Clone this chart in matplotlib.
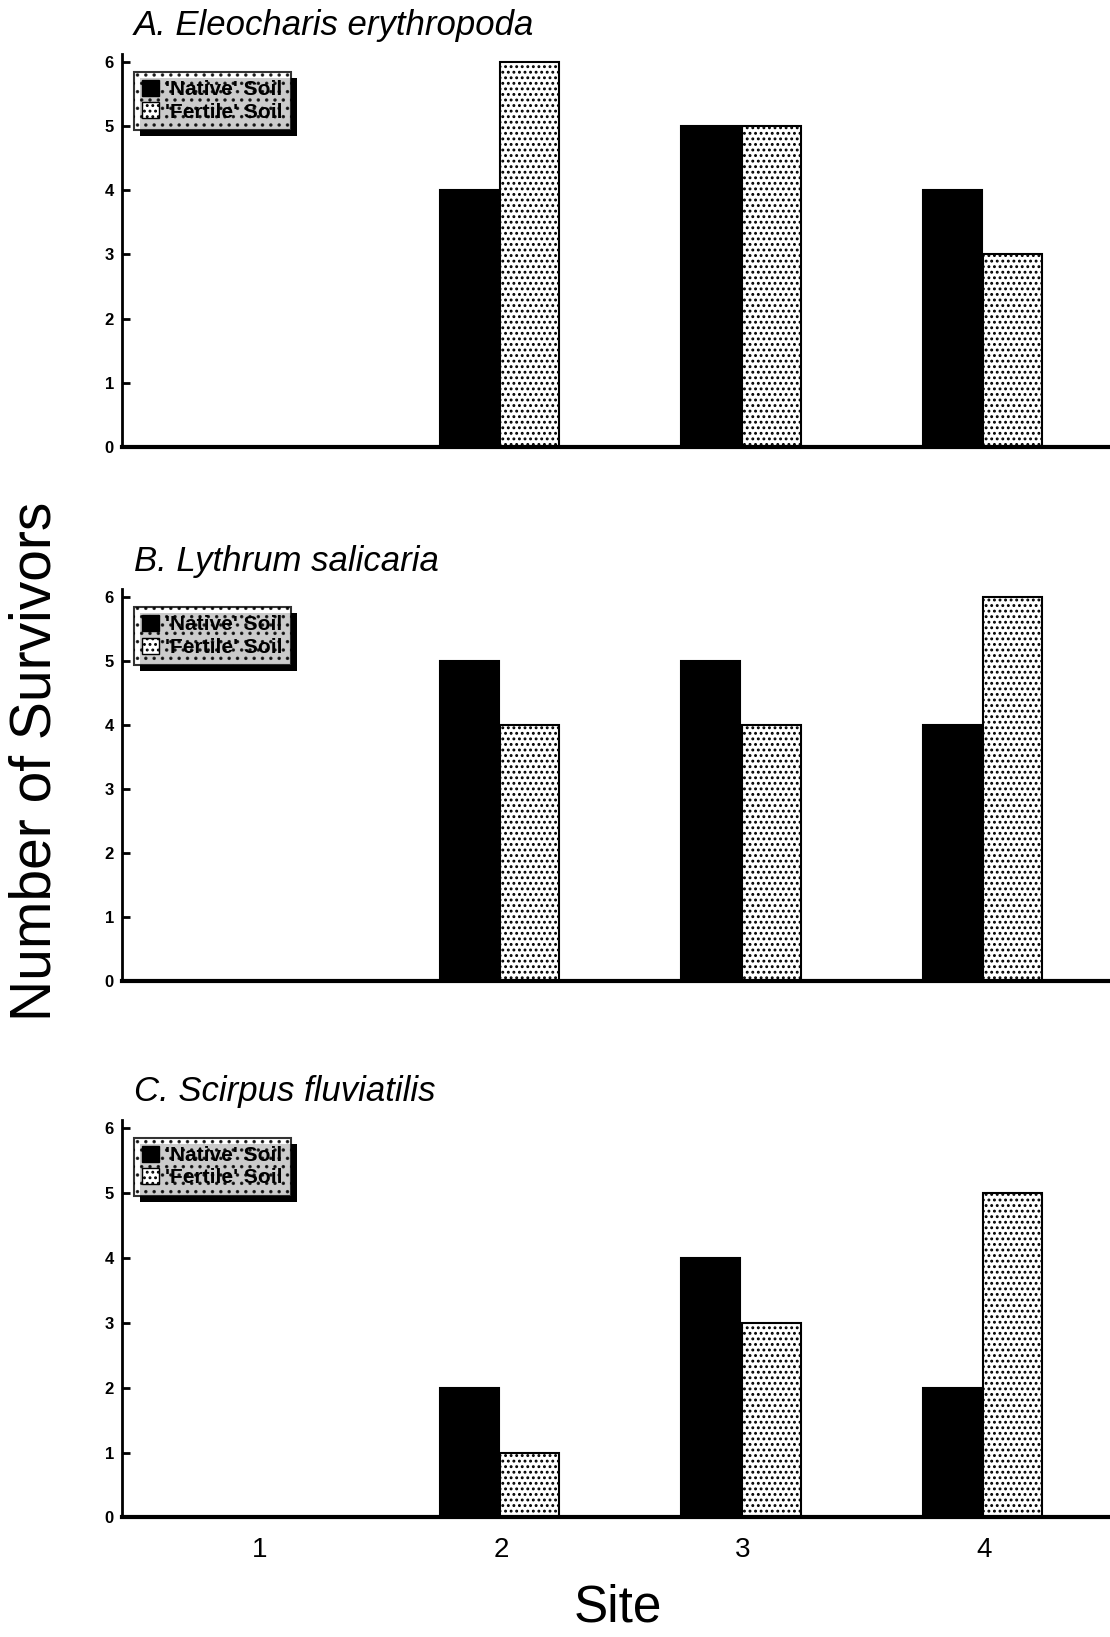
import numpy as np
import matplotlib
matplotlib.use("Agg")
import matplotlib.pyplot as plt
from matplotlib.patches import Patch, Rectangle

plt.rcParams['font.family'] = ['Liberation Sans', 'DejaVu Sans']
plt.rcParams['hatch.linewidth'] = 1.3

sites = [1, 2, 3, 4]
titles = ["A. Eleocharis erythropoda", "B. Lythrum salicaria", "C. Scirpus fluviatilis"]
native = [
    [0, 4, 5, 4],
    [0, 5, 5, 4],
    [0, 2, 4, 2],
]
fertile = [
    [0, 6, 5, 3],
    [0, 4, 4, 6],
    [0, 1, 3, 5],
]
labels = ["'Native' Soil", "'Fertile' Soil"]

fig = plt.figure(figsize=(11.1, 16.37), dpi=100)
# panel boxes: left, bottom, width, height (figure fraction)
boxes = [
    (0.110, 0.727, 0.89, 0.240),
    (0.110, 0.401, 0.89, 0.239),
    (0.110, 0.073, 0.89, 0.243),
]
w = 0.245
x = np.array(sites)
legends = []

for i in range(3):
    ax = fig.add_axes(boxes[i])
    ax.bar(x - w / 2 - 0.01, native[i], w, color='black', edgecolor='black', linewidth=1.5)
    ax.bar(x + w / 2 - 0.005, fertile[i], w, color='white', edgecolor='black', linewidth=1.5, hatch='...')
    ax.set_xlim(0.43, 4.52)
    ax.set_ylim(0, 6.12)
    ax.set_yticks(range(7))
    ax.spines['top'].set_visible(False)
    ax.spines['right'].set_visible(False)
    ax.spines['left'].set_linewidth(2)
    ax.spines['bottom'].set_linewidth(3)
    ax.tick_params(axis='y', direction='in', length=6, width=2, labelsize=12, pad=6)
    for t in ax.get_yticklabels():
        t.set_fontweight('bold')
    ax.set_xticks(sites)
    if i == 2:
        ax.tick_params(axis='x', length=0, labelsize=20, pad=14)
    else:
        ax.tick_params(axis='x', length=0, labelbottom=False)
    ax.text(0.012, 1.03, titles[i], transform=ax.transAxes, fontsize=25,
            style='italic', ha='left', va='bottom')

    handles = [Patch(facecolor='black', edgecolor='black'),
               Patch(facecolor='white', edgecolor='black', hatch='...')]
    leg = ax.legend(handles, labels, loc='upper left', bbox_to_anchor=(0.012, 0.955),
                    prop={'size': 15, 'weight': 'bold'}, frameon=True, fancybox=False,
                    borderpad=0.4, handlelength=0.8, handleheight=0.8, handletextpad=0.3,
                    labelspacing=0.15, borderaxespad=0)
    fr = leg.get_frame()
    fr.set_edgecolor('black')
    fr.set_linewidth(1.5)
    fr.set_facecolor('white')
    fr.set_hatch('..')
    legends.append((ax, leg))

# solid drop shadow behind each legend box
fig.canvas.draw()
for ax, leg in legends:
    bb = leg.get_frame().get_window_extent().transformed(ax.transAxes.inverted())
    dx = 6 / ax.bbox.width
    dy = 6 / ax.bbox.height
    ax.add_patch(Rectangle((bb.x0 + dx, bb.y0 - dy), bb.width, bb.height,
                           transform=ax.transAxes, facecolor='black', edgecolor='none',
                           zorder=4.5, clip_on=False))

fig.text(0.032, 0.535, "Number of Survivors", rotation=90, fontsize=41,
         ha='center', va='center')
fig.text(0.557, 0.018, "Site", fontsize=37, ha='center', va='center')

fig.savefig("out.png", dpi=100)
